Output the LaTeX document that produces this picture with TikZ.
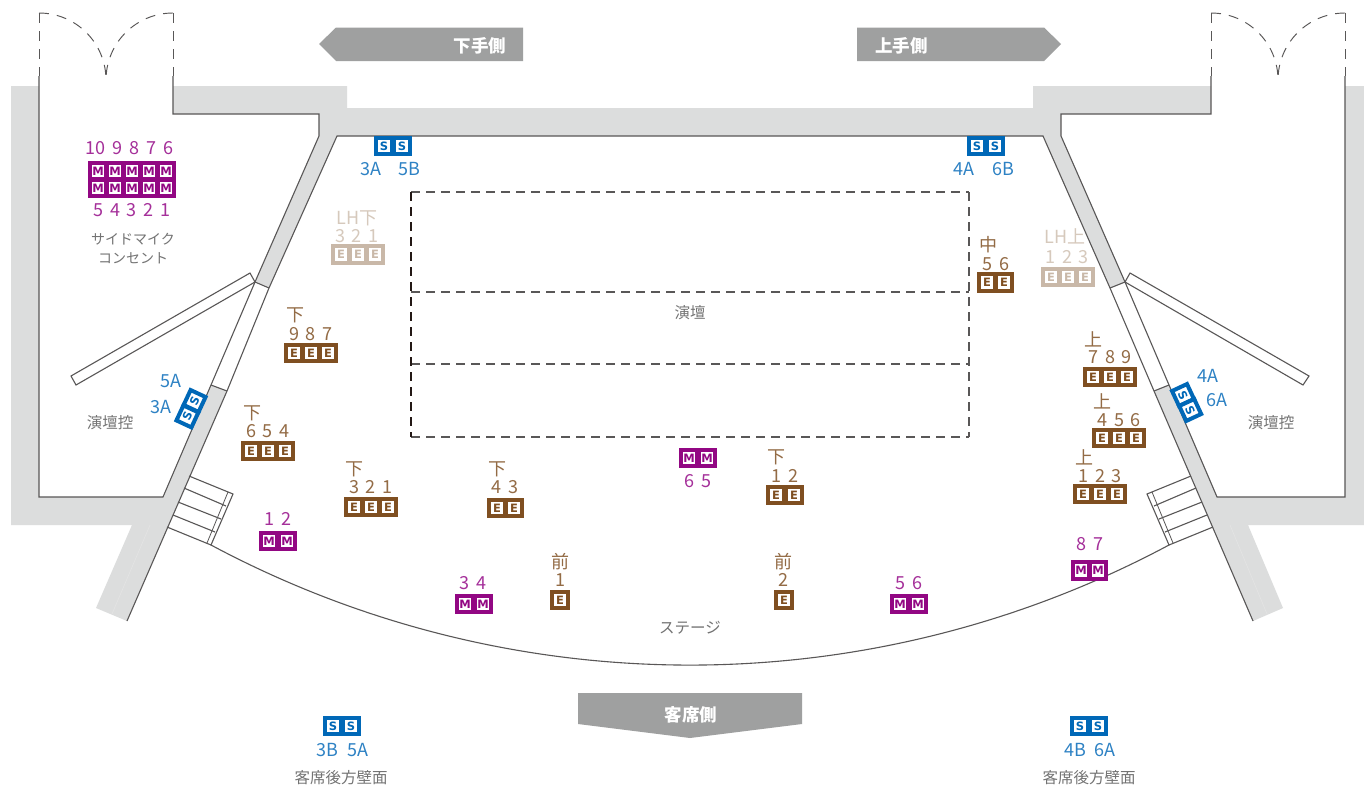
\documentclass[tikz,border=0pt]{standalone}
\usepackage{fontspec}
\setmainfont{Noto Sans CJK JP}
\newfontfamily\letterfont{DejaVu Sans}
\definecolor{wall}{HTML}{DCDDDD}
\definecolor{ink}{HTML}{595757}
\definecolor{dashink}{HTML}{231815}
\definecolor{tagc}{HTML}{9FA0A0}
\definecolor{purp}{HTML}{920783}
\definecolor{blu}{HTML}{0068B7}
\definecolor{brn}{HTML}{7F4F21}
\definecolor{tan}{HTML}{C9B8A8}
\definecolor{purpt}{HTML}{A5309A}
\definecolor{blut}{HTML}{2E82C4}
\definecolor{brnt}{HTML}{936B45}
\definecolor{tant}{HTML}{D6C9BC}
\definecolor{labt}{HTML}{737373}
\newcommand\digfont{\fontsize{18}{20}\selectfont\spaceskip=7pt\relax}
\newcommand\unitrow[5]{\foreach \x [count=\i] in {#4} \node[#1] (#2\i) at (\x,#3) {#5};}
\tikzset{
  wallfill/.style={fill=wall,draw=none},
  wline/.style={draw=ink,line width=1.1pt},
  doorline/.style={draw=ink,line width=.95pt,dash pattern=on 10pt off 8pt},
  bigdash/.style={draw=ink,line width=2.4pt,dash pattern=on 9pt off 6pt},
  bigdashv/.style={draw=dashink,line width=2.4pt,dash pattern=on 9pt off 6pt},
  tag/.style={fill=tagc,draw=none},
  tagtext/.style={text=white,font=\fontsize{17.5}{19}\selectfont\bfseries,inner sep=0},
  unitbase/.style={line width=4pt,fill=white,minimum size=16.5pt,inner sep=0,font=\letterfont\fontsize{11.5}{12}\selectfont\bfseries},
  Eunit/.style={unitbase,draw=brn,text=brn},
  Lunit/.style={unitbase,draw=tan,text=tan},
  Munit/.style={unitbase,draw=purp,text=purp},
  Sunit/.style={unitbase,draw=blu,text=blu},
  lab/.style={inner sep=0,font=\digfont},
  brnl/.style={lab,text=brnt},
  purl/.style={lab,text=purpt},
  blul/.style={lab,text=blut},
  tanl/.style={lab,text=tant},
  note/.style={inner sep=0,text=labt,font=\fontsize{15.5}{19}\selectfont,align=center},
  kana/.style={inner sep=0,text=labt,font=\fontsize{14}{19}\selectfont,align=center},
}
\begin{document}
\begin{tikzpicture}[x=1pt,y=-1pt]
\useasboundingbox (0,0) rectangle (1364,788);
\fill[white] (0,0) rectangle (1364,788);
% walls
\fill[wallfill] (11,86)--(39,86)--(39,497)--(163,497)--(211,385)--(227,391)--(127,621)--(96,608)--(132,525)--(11,525)--cycle;
\fill[wallfill] (173,86)--(347,86)--(347,108)--(1033,108)--(1033,86)--(1211,86)--(1211,114)--(1061,114)--(1061,136)--(1125,282)--(1110,288)--(1043,136)--(337,136)--(269,288)--(255,282)--(319,136)--(319,114)--(173,114)--cycle;
\fill[wallfill] (1345,86)--(1364,86)--(1364,525)--(1248,525)--(1283,608)--(1253,621)--(1154,391)--(1169,385)--(1217,497)--(1345,497)--cycle;
\draw[white!22!wall,line width=.6pt] (150,525)--(112,614);
\draw[white!22!wall,line width=.6pt] (1230,525)--(1267,614);
% wall lines left
\draw[wline] (39,76)--(39,497)--(163,497)--(211,385)--(255,282)--(319,136)--(319,114)--(173,114)--(173,76);
\draw[wline] (127,621)--(227,391)--(269,288)--(337,136)--(1043,136)--(1110,288)--(1154,391)--(1253,621);
\draw[wline] (255,282)--(269,288);
\draw[wline] (211,385)--(227,391);
\draw[wline] (1125,282)--(1110,288);
\draw[wline] (1169,385)--(1154,391);
\draw[wline] (1345,76)--(1345,497)--(1217,497)--(1169,385)--(1125,282)--(1061,136)--(1061,114)--(1211,114)--(1211,76);
% angled panels
\draw[wline,fill=white] (250,273)--(255,282)--(76,385)--(71,376)--cycle;
\draw[wline,fill=white] (1130,273)--(1125,282)--(1303,385)--(1309,376)--cycle;
% stairs left
\draw[wline] (189,476)--(233,494)--(211,545)--(167,527);
\draw[wline,line width=.8pt] (228,492)--(207,543);
\draw[wline] (184,488)--(226,506);
\draw[wline] (178,502)--(221,519);
\draw[wline] (173,515)--(215,532);
% stairs right
\draw[wline] (1191,476)--(1147,494)--(1169,545)--(1213,527);
\draw[wline,line width=.8pt] (1152,492)--(1173,543);
\draw[wline] (1196,488)--(1154,506);
\draw[wline] (1202,502)--(1159,519);
\draw[wline] (1207,515)--(1165,532);
% stage edge
\draw[wline] (211,545) .. controls (510.5,705.1) and (869.5,705.1) .. (1169,545);
% doors
\draw[doorline] (39,13)--(39,76);
\draw[doorline] (39,13) .. controls (76,13) and (106,43) .. (106,80);
\draw[doorline] (173,13)--(173,76);
\draw[doorline] (173,13) .. controls (136,13) and (106,43) .. (106,80);
\draw[doorline] (1211,13)--(1211,76);
\draw[doorline] (1211,13) .. controls (1248,13) and (1278,43) .. (1278,80);
\draw[doorline] (1345,13)--(1345,76);
\draw[doorline] (1345,13) .. controls (1308,13) and (1278,43) .. (1278,80);
% platform
\draw[bigdash] (411,192)--(969,192);
\draw[bigdash] (411,292)--(969,292);
\draw[bigdash] (411,364)--(969,364);
\draw[bigdash] (411,437)--(969,437);
\draw[bigdashv] (411,192)--(411,437);
\draw[bigdash] (969,192)--(969,437);
% direction tags
\fill[tag] (319,44)--(336,27.5)--(523,27.5)--(523,61)--(336,61)--cycle;
\node[tagtext] (tagL) at (480,46) {下手側};
\fill[tag] (857,27.5)--(1044,27.5)--(1061,44)--(1044,61)--(857,61)--cycle;
\node[tagtext] (tagR) at (901.5,46) {上手側};
\fill[tag] (578,693)--(802,693)--(802,724)--(690,738)--(578,724)--cycle;
\node[tagtext] (tagB) at (691,714.5) {客席側};
% S units
\unitrow{Sunit}{sa}{146}{384,402}{S}
\node[blul] (sa1t) at (371,169) {3A};
\node[blul] (sa2t) at (409,169) {5B};
\unitrow{Sunit}{sb}{146}{977,995}{S}
\node[blul] (sb1t) at (964,169) {4A};
\node[blul] (sb2t) at (1003,169) {6B};
\node[Sunit,rotate=65] (sc1) at (194.6,401) {S};
\node[Sunit,rotate=65] (sc2) at (187.4,416.4) {S};
\node[blul] (sc1t) at (171,381) {5A};
\node[blul] (sc2t) at (161,407) {3A};
\node[Sunit,rotate=-65] (sd1) at (1183,395) {S};
\node[Sunit,rotate=-65] (sd2) at (1190.2,410) {S};
\node[blul] (sd1t) at (1208,376) {4A};
\node[blul] (sd2t) at (1217,400) {6A};
\unitrow{Sunit}{se}{726}{333,351}{S}
\node[blul] (se1t) at (327,750) {3B};
\node[blul] (se2t) at (358,750) {5A};
\node[note] (seN) at (341,778) {客席後方壁面};
\unitrow{Sunit}{sf}{726}{1080,1098}{S}
\node[blul] (sf1t) at (1075,750) {4B};
\node[blul] (sf2t) at (1105,750) {6A};
\node[note] (sfN) at (1089,778) {客席後方壁面};
% side mic outlets
\unitrow{Munit}{mt}{171}{98,115,132,149,166}{M}
\unitrow{Munit}{mb}{188}{98,115,132,149,166}{M}
\node[purl] (mtt) at (129.5,148) {10 9 8 7 6};
\node[purl] (mbt) at (132,210) {5 4 3 2 1};
\node[kana] (micN) at (133,248.5) {サイドマイク\\コンセント};
% M units
\unitrow{Munit}{ma}{541}{269,287}{M}
\node[purl] (mat) at (278,519) {1 2};
\unitrow{Munit}{mc}{604}{465,483}{M}
\node[purl] (mct) at (473,583) {3 4};
\unitrow{Munit}{md}{458}{689,707}{M}
\node[purl] (mdt) at (698,481) {6 5};
\unitrow{Munit}{me}{604}{900,918}{M}
\node[purl] (met) at (909,583) {5 6};
\unitrow{Munit}{mf}{570.5}{1081,1098}{M}
\node[purl] (mft) at (1090,544) {8 7};
% LH
\unitrow{Lunit}{la}{254.5}{341,358,375}{E}
\node[tanl] (lan) at (357,218) {LH下};
\node[tanl] (lat) at (357,236) {3 2 1};
\unitrow{Lunit}{lb}{277}{1051,1068,1085}{E}
\node[tanl] (lbn) at (1065,236) {LH上};
\node[tanl] (lbt) at (1067,257) {1 2 3};
% E units
\unitrow{Eunit}{ea}{353}{294,311,328}{E}
\node[brnl] (ean) at (295,315) {下};
\node[brnl] (eat) at (311,334) {9 8 7};
\unitrow{Eunit}{eb}{451}{251,268,285}{E}
\node[brnl] (ebn) at (252,413) {下};
\node[brnl] (ebt) at (268,431) {6 5 4};
\unitrow{Eunit}{ec}{507}{354,371,388}{E}
\node[brnl] (ecn) at (354,469) {下};
\node[brnl] (ect) at (371,487) {3 2 1};
\unitrow{Eunit}{ed}{508}{497,514}{E}
\node[brnl] (edn) at (497,469) {下};
\node[brnl] (edt) at (505,487) {4 3};
\unitrow{Eunit}{ee}{495}{776,794}{E}
\node[brnl] (een) at (776,457) {下};
\node[brnl] (eet) at (785,476) {1 2};
\unitrow{Eunit}{ef}{600}{560}{E}
\node[brnl] (efn) at (560,562) {前};
\node[brnl] (eft) at (560,580) {1};
\unitrow{Eunit}{eg}{600}{784}{E}
\node[brnl] (egn) at (783,562) {前};
\node[brnl] (egt) at (783,580) {2};
\unitrow{Eunit}{eh}{282.5}{987,1004}{E}
\node[brnl] (ehn) at (988,245) {中};
\node[brnl] (eht) at (996,264) {5 6};
\unitrow{Eunit}{ei}{377}{1093,1110,1127}{E}
\node[brnl] (ein) at (1093,339) {上};
\node[brnl] (eit) at (1110,357) {7 8 9};
\unitrow{Eunit}{ej}{438}{1102,1119,1136}{E}
\node[brnl] (ejn) at (1102,401) {上};
\node[brnl] (ejt) at (1119,420) {4 5 6};
\unitrow{Eunit}{ek}{494}{1083,1100,1117}{E}
\node[brnl] (ekn) at (1084,457) {上};
\node[brnl] (ekt) at (1100,476) {1 2 3};
% room labels
\node[note] (pl) at (690,313) {演壇};
\node[note] (ctlL) at (110,423) {演壇控};
\node[note] (ctlR) at (1271,423) {演壇控};
\node[note] (stg) at (690,628) {ステージ};
\end{tikzpicture}
\end{document}
